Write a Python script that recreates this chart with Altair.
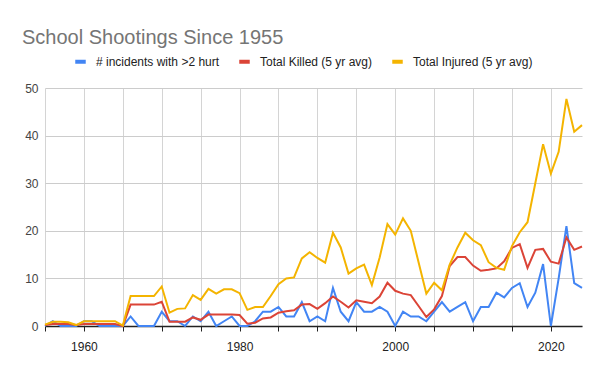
import altair as alt
import pandas as pd

years = list(range(1955, 2025))

incidents = [0, 1, 0, 0, 0, 1, 1, 0, 0, 0,
             0, 2, 0, 0, 0, 3, 1, 1, 0, 2,
             1, 3, 0, 1, 2, 0, 0, 1, 3, 3,
             4, 2, 2, 5, 1, 2, 1, 8, 3, 1,
             5, 3, 3, 4, 3, 0, 3, 2, 2, 1,
             3, 5, 3, 4, 5, 1, 4, 4, 7, 6,
             8, 9, 4, 7, 13, 0, 10, 21, 9, 8]

killed = [0.2, 0.4, 0.4, 0.4, 0.2, 0.4, 0.4, 0.4, 0.4, 0.4,
          0.0, 4.5, 4.5, 4.5, 4.5, 5.1, 0.9, 0.9, 0.9, 1.8,
          1.3, 2.4, 2.4, 2.4, 2.4, 2.3, 0.5, 0.7, 1.6, 1.8,
          2.8, 3.1, 3.3, 4.5, 4.6, 3.6, 4.8, 6.2, 5.1, 3.9,
          5.4, 5.1, 4.8, 6.2, 9.1, 7.4, 6.8, 6.5, 4.2, 1.9,
          3.5, 6.3, 12.6, 14.5, 14.5, 12.7, 11.6, 11.8, 12.1, 13.6,
          16.4, 17.2, 12.2, 16.0, 16.2, 13.5, 13.1, 18.6, 16.0, 16.7]

injured = [0.3, 0.9, 0.9, 0.8, 0.2, 1.0, 1.0, 1.0, 1.0, 1.0,
           0.1, 6.3, 6.3, 6.3, 6.3, 8.3, 2.8, 3.6, 3.7, 6.5,
           5.5, 7.8, 6.8, 7.7, 7.7, 6.9, 3.4, 4.0, 4.0, 6.3,
           8.8, 10.0, 10.2, 14.2, 15.5, 14.3, 13.3, 19.6, 16.5, 11.0,
           12.1, 12.9, 8.6, 14.4, 21.4, 19.2, 22.6, 20.0, 13.4, 6.8,
           9.1, 7.5, 12.9, 16.5, 19.6, 18.0, 17.0, 13.4, 12.2, 11.8,
           16.8, 19.7, 21.8, 30.0, 38.2, 32.0, 36.6, 47.7, 40.8, 42.2]

series_names = ["# incidents with >2 hurt", "Total Killed (5 yr avg)", "Total Injured (5 yr avg)"]
series_colors = ["#4285F4", "#DB4437", "#F4B400"]
x_ticks = list(range(1955, 2025, 5))
y_ticks = [0, 10, 20, 30, 40, 50]

rows = []
for name, vals in zip(series_names, [incidents, killed, injured]):
    for yr, v in zip(years, vals):
        rows.append({"year": yr, "value": v, "series": name})
df = pd.DataFrame(rows)

FONT = "Liberation Sans"

chart = alt.Chart(df).mark_line(strokeWidth=2).encode(
    x=alt.X("year:Q",
            scale=alt.Scale(domain=[1955, 2024], nice=False, zero=False),
            axis=alt.Axis(values=x_ticks, format="d", title=None,
                          labelExpr="datum.value % 20 === 0 ? datum.label : ''",
                          labelFont=FONT, labelFontSize=12, labelColor="#222222",
                          labelPadding=10, tickSize=5, tickColor="#222222",
                          domainColor="#222222", domainWidth=1.5,
                          gridColor="#d4d4d4", labelFlush=False)),
    y=alt.Y("value:Q",
            scale=alt.Scale(domain=[0, 50], nice=False),
            axis=alt.Axis(values=y_ticks, title=None, domain=False, ticks=False,
                          labelFont=FONT, labelFontSize=12, labelColor="#444444",
                          labelPadding=7, gridColor="#cccccc")),
    color=alt.Color("series:N",
                    scale=alt.Scale(domain=series_names, range=series_colors),
                    sort=series_names,
                    legend=alt.Legend(title=None, orient="none", direction="horizontal",
                                      legendX=28, legendY=-34,
                                      symbolType="stroke", symbolStrokeWidth=4,
                                      symbolSize=110, labelFont=FONT, labelFontSize=12,
                                      labelColor="#222222", labelOffset=8,
                                      columnPadding=11)),
).properties(
    width=537,
    height=238,
    title=alt.TitleParams("School Shootings Since 1955", anchor="start", frame="group",
                          font=FONT, fontSize=20, fontWeight="normal", color="#757575",
                          dx=-23, offset=6),
    autosize=alt.AutoSizeParams(type="none"),
    padding={"left": 37, "top": 80, "right": 10, "bottom": 37},
).configure_view(stroke=None)

chart.save("out.html", embed_options={"renderer": "svg", "actions": False})
